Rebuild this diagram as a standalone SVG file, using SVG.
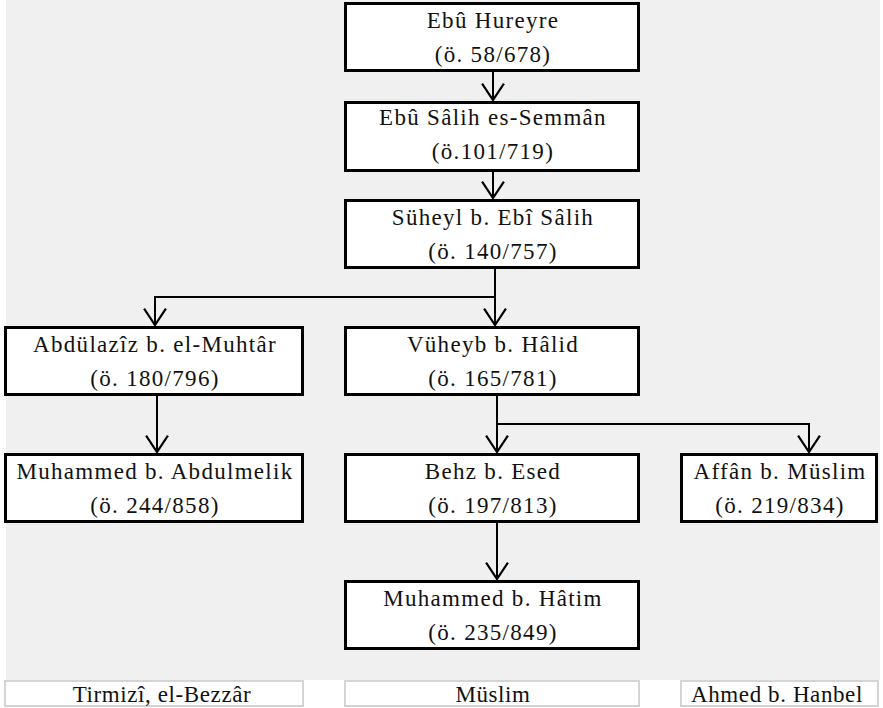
<svg xmlns="http://www.w3.org/2000/svg" width="883" height="708" viewBox="0 0 883 708">
<style>
.box{fill:#fff;stroke:#000;stroke-width:3}
.t{font-family:"Liberation Serif","Times New Roman",serif;font-size:23px;letter-spacing:1.3px;fill:#111;text-anchor:middle}
.lab{font-family:"Liberation Serif","Times New Roman",serif;font-size:23px;letter-spacing:0.6px;fill:#111;text-anchor:middle}
.cell{fill:#fff;stroke:#d4d4d4;stroke-width:2}
.c{fill:none;stroke:#000;stroke-width:2}
</style>
<defs>
<marker id="ah" markerUnits="userSpaceOnUse" markerWidth="20" markerHeight="24" refX="16" refY="11" orient="auto" viewBox="0 0 18 22">
<path d="M1,1 L16,11 L1,21" fill="none" stroke="#000" stroke-width="2"/>
</marker>
</defs>
<rect x="6" y="0" width="874" height="680" fill="#f0f0f0"/>
<g id="connectors">
<line class="c" x1="493" y1="72" x2="493" y2="100" marker-end="url(#ah)"/>
<line class="c" x1="493" y1="172" x2="493" y2="198" marker-end="url(#ah)"/>
<line class="c" x1="495" y1="269" x2="495" y2="325" marker-end="url(#ah)"/>
<polyline class="c" points="495,297 155,297 155,325" marker-end="url(#ah)"/>
<line class="c" x1="157" y1="396" x2="157" y2="452" marker-end="url(#ah)"/>
<line class="c" x1="497" y1="396" x2="497" y2="452" marker-end="url(#ah)"/>
<polyline class="c" points="497,424 809,424 809,452" marker-end="url(#ah)"/>
<line class="c" x1="497" y1="523" x2="497" y2="579" marker-end="url(#ah)"/>
</g>
<g id="n1"><rect class="box" x="345.5" y="3.5" width="293" height="67"/><text class="t" x="493" y="28">Ebû Hureyre</text><text class="t" x="493" y="62">(ö. 58/678)</text></g>
<g id="n2"><rect class="box" x="345.5" y="102.5" width="293" height="68"/><text class="t" x="493" y="125">Ebû Sâlih es-Semmân</text><text class="t" x="493" y="159">(ö.101/719)</text></g>
<g id="n3"><rect class="box" x="345.5" y="200.5" width="293" height="67"/><text class="t" x="493" y="225">Süheyl b. Ebî Sâlih</text><text class="t" x="493" y="259">(ö. 140/757)</text></g>
<g id="n4"><rect class="box" x="5.5" y="327.5" width="297" height="67"/><text class="t" x="155" y="352">Abdülazîz b. el-Muhtâr</text><text class="t" x="155" y="386">(ö. 180/796)</text></g>
<g id="n5"><rect class="box" x="345.5" y="327.5" width="293" height="67"/><text class="t" x="493" y="352">Vüheyb b. Hâlid</text><text class="t" x="493" y="386">(ö. 165/781)</text></g>
<g id="n6"><rect class="box" x="5.5" y="454.5" width="297" height="67"/><text class="t" x="155" y="479">Muhammed b. Abdulmelik</text><text class="t" x="155" y="513">(ö. 244/858)</text></g>
<g id="n7"><rect class="box" x="345.5" y="454.5" width="293" height="67"/><text class="t" x="493" y="479">Behz b. Esed</text><text class="t" x="493" y="513">(ö. 197/813)</text></g>
<g id="n8"><rect class="box" x="681.5" y="454.5" width="195" height="67"/><text class="t" x="780" y="479">Affân b. Müslim</text><text class="t" x="780" y="513">(ö. 219/834)</text></g>
<g id="n9"><rect class="box" x="345.5" y="581.5" width="293" height="67"/><text class="t" x="493" y="606">Muhammed b. Hâtim</text><text class="t" x="493" y="640">(ö. 235/849)</text></g>
<g id="labels">
<rect class="cell" x="5" y="681" width="298" height="25"/><text class="lab" x="162" y="702">Tirmizî, el-Bezzâr</text>
<rect class="cell" x="345" y="681" width="294" height="25"/><text class="lab" x="493" y="702">Müslim</text>
<rect class="cell" x="681" y="681" width="197" height="25"/><text class="lab" x="777" y="702">Ahmed b. Hanbel</text>
</g>
</svg>
